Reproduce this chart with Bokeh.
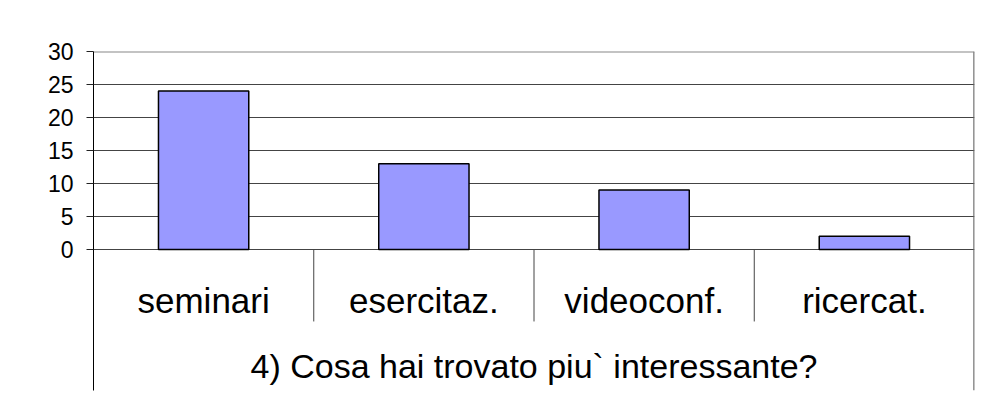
from bokeh.plotting import figure
from bokeh.models import FactorRange, Range1d, FixedTicker, ColumnDataSource
from bokeh.core.properties import value
from bokeh.embed import file_html
from bokeh.resources import INLINE

# ---- data ----
categories = ["seminari", "esercitaz.", "videoconf.", "ricercat."]
counts = [24, 13, 9, 2]
y_ticks = [0, 5, 10, 15, 20, 25, 30]
chart_title = "4) Cosa hai trovato piu` interessante?"

FONT = "Liberation Sans"
BAR_COLOR = "#9999FF"

# y-range extends below zero to host the category table area
Y_MIN = -21.36
Y_MAX = 30

p = figure(
    width=979, height=408,
    x_range=FactorRange(*categories),
    y_range=Range1d(Y_MIN, Y_MAX),
    x_axis_location=None,
    output_backend="svg", toolbar_location=None,
    min_border_left=93, min_border_right=5,
    min_border_top=51, min_border_bottom=18,
)
p.outline_line_color = None
p.background_fill_color = "white"
p.border_fill_color = "white"

# y axis
p.yaxis.ticker = FixedTicker(ticks=y_ticks)
p.yaxis.minor_tick_line_color = None
p.yaxis.major_tick_out = 7
p.yaxis.major_tick_in = 0
p.yaxis.major_tick_line_color = "#222222"
p.yaxis.axis_line_color = "black"
p.yaxis.axis_line_width = 1
p.yaxis.major_label_text_font = FONT
p.yaxis.major_label_text_font_size = "23px"
p.yaxis.major_label_text_color = "black"
p.yaxis.major_label_standoff = 13

# grid
p.xgrid.grid_line_color = None
p.ygrid.ticker = FixedTicker(ticks=y_ticks)
p.ygrid.grid_line_color = "#444444"
p.ygrid.grid_line_width = 1

# bars
src = ColumnDataSource(dict(cat=categories, val=counts))
p.vbar(x="cat", top="val", bottom=0, width=0.41, source=src,
       fill_color=BAR_COLOR, line_color="black", line_width=1.5)

n = len(categories)
# category separators below the axis
sep_x = list(range(1, n))
p.segment(x0=sep_x, y0=[0] * len(sep_x), x1=sep_x, y1=[-10.9] * len(sep_x),
          line_color="#444444", line_width=1)
# right border of the chart table
p.segment(x0=[n - 0.002], y0=[Y_MIN], x1=[n - 0.002], y1=[Y_MAX],
          line_color="#666666", line_width=1.5)
# top border
p.segment(x0=[0], y0=[Y_MAX - 0.05], x1=[n], y1=[Y_MAX - 0.05],
          line_color="#888888", line_width=1.5)

# category labels
centers = [i + 0.5 for i in range(n)]
p.text(x=centers, y=[-7.73] * n, text=categories,
       text_font=value(FONT), text_font_size="35px",
       text_align="center", text_baseline="alphabetic", text_color="black")

# chart title below
p.text(x=[n / 2], y=[-17.58], text=[chart_title],
       text_font=value(FONT), text_font_size="34px",
       text_align="center", text_baseline="alphabetic", text_color="black")

open("out.html", "w").write(file_html(p, INLINE))
